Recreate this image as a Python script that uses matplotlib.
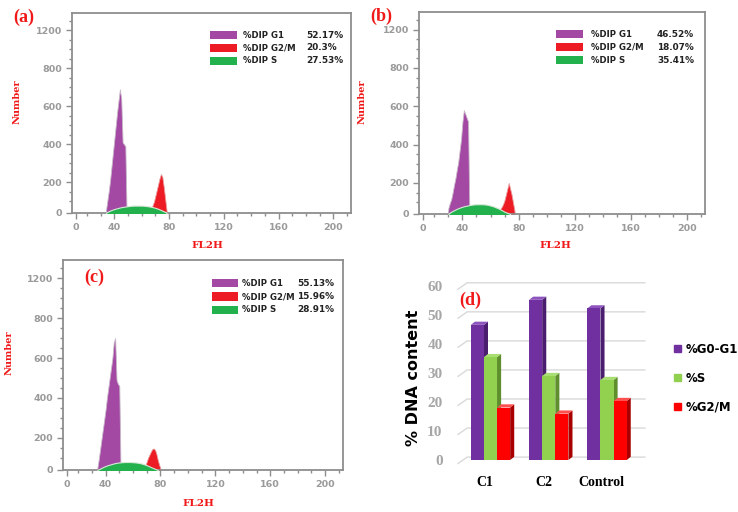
import matplotlib
matplotlib.use('Agg')
import matplotlib.pyplot as plt
from matplotlib.patches import Rectangle, Patch
import numpy as np

# ---- flow cytometry histograms, counts per FL2H channel ----
panel_tags = ['(a)', '(b)', '(c)']

g1_x = [list(range(33, 50)), list(range(29, 46)), list(range(33, 52))]
g1_y = [
    [0, 60, 110, 160, 220, 290, 360, 430, 500, 570, 630, 690, 640, 410, 400, 390, 0],
    [0, 70, 95, 115, 150, 190, 225, 270, 310, 370, 430, 520, 580, 560, 540, 520, 0],
    [0, 45, 90, 140, 190, 240, 290, 340, 400, 450, 500, 550, 600, 680, 700, 490, 470, 460, 0],
]
s_x = [list(range(34, 80, 2)), list(range(30, 76, 2)), list(range(34, 80, 2))]
s_y = [
    [41, 48, 54, 59, 63, 67, 70, 72, 74, 76, 77, 77, 77, 77, 76, 74, 72, 69, 65, 60, 54, 47, 41],
    [40, 50, 58, 65, 71, 76, 80, 83, 86, 88, 89, 89, 89, 88, 86, 82, 78, 72, 66, 58, 50, 44, 38],
    [38, 45, 52, 58, 63, 67, 71, 74, 76, 77, 78, 78, 78, 77, 76, 74, 71, 67, 62, 56, 50, 44, 38],
]
g2_x = [list(range(67, 80)), list(range(67, 79)), list(range(69, 82))]
g2_y = [
    [60, 80, 100, 130, 160, 190, 220, 243, 230, 180, 120, 60, 0],
    [65, 75, 90, 110, 140, 170, 200, 170, 140, 100, 60, 0],
    [60, 80, 100, 115, 130, 143, 146, 140, 120, 90, 65, 45, 0],
]
pct_g1 = [52.17, 46.52, 55.13]
pct_g2 = [20.3, 18.07, 15.96]
pct_s = [27.53, 35.41, 28.91]

xtick_labels = ['0', '40', '80', '120', '160', '200']
ytick_labels = ['0', '200', '400', '600', '800', '1200']

# ---- bar chart (d) ----
groups = ['C1', 'C2', 'Control']
bar_g0g1 = [46.52, 55.13, 52.17]
bar_s = [35.41, 28.91, 27.53]
bar_g2m = [18.07, 15.96, 20.3]

PURPLE = '#a349a4'
RED = '#ed1c24'
GREEN = '#22b14c'
GREY = '#8e8e8e'
LABEL_RED = '#f01818'

W_PX, H_PX = 738, 512
fig = plt.figure(figsize=(W_PX / 100, H_PX / 100), dpi=100)


def box(l, t, r, b):
    return [l / W_PX, 1 - b / H_PX, (r - l) / W_PX, (b - t) / H_PX]


def ftext(x, y, s, **kw):
    fig.text(x / W_PX, 1 - y / H_PX, s, ha='center', va='center', **kw)


hist_boxes = [box(72, 13, 351, 213), box(419, 12, 705, 214), box(63, 260, 343, 470)]
legend_x = [(0.495, 0.613, 0.839), (0.478, 0.601, 0.832), (0.531, 0.638, 0.835)]
tag_pos = [(24, 17), (381, 16), (94, 277)]
number_pos = [(17, 102), (362, 102), (9, 353)]
fl2h_pos = [(207, 246), (555, 246), (198, 503)]

for i in range(3):
    ax = fig.add_axes(hist_boxes[i])
    ax.fill_between(g1_x[i], g1_y[i], 0, color=PURPLE, lw=0.6, edgecolor='#c8b8c8', zorder=2)
    ax.fill_between(g2_x[i], g2_y[i], 0, color=RED, lw=0.6, edgecolor='#e8a0a0', zorder=2)
    ax.fill_between(s_x[i], s_y[i], 0, color=GREEN, lw=0.8, edgecolor='#d8e8d8', zorder=3)

    ax.set_xlim(9, 213)
    ax.set_ylim(38, 1092)
    ax.set_xticks([12, 40, 80, 120, 160, 200], xtick_labels)
    ax.set_xticks([v for v in range(20, 211, 10) if v % 40], minor=True)
    ax.set_yticks([40, 200, 400, 600, 800, 1000], ytick_labels)
    ax.set_yticks([v for v in range(100, 1090, 50) if v % 200], minor=True)
    ax.tick_params(which='both', direction='out', color=GREY, labelcolor='#9a9a9a',
                   labelsize=6.8, width=1)
    ax.tick_params(which='major', length=4, pad=3)
    ax.tick_params(which='minor', length=2.5)
    for lab in ax.get_xticklabels() + ax.get_yticklabels():
        lab.set_fontweight('bold')
    for sp in ax.spines.values():
        sp.set_color(GREY)
        sp.set_linewidth(1.3)

    # legend block inside the histogram
    bx, tx, vx = legend_x[i]
    rows = [('%DIP G1', pct_g1[i], PURPLE), ('%DIP G2/M', pct_g2[i], RED), ('%DIP S', pct_s[i], GREEN)]
    for k, (name, val, col) in enumerate(rows):
        yy = 0.89 - k * 0.064
        ax.add_patch(Rectangle((bx, yy - 0.02), 0.095, 0.04, transform=ax.transAxes,
                               color=col, lw=0))
        ax.text(tx, yy, name, transform=ax.transAxes, va='center', ha='left',
                fontsize=6.2, fontweight='bold', color='#222222')
        ax.text(vx, yy, f'{val:g}%', transform=ax.transAxes, va='center', ha='left',
                fontsize=6.4, fontweight='bold', color='#222222')

    ftext(*tag_pos[i], panel_tags[i], color=LABEL_RED, fontsize=13, fontweight='bold',
          family='Liberation Serif')
    ftext(*number_pos[i], 'Number', color=LABEL_RED, fontsize=7, fontweight='bold',
          family='DejaVu Serif', rotation=90)
    ftext(*fl2h_pos[i], 'FL2H', color=LABEL_RED, fontsize=7.5, fontweight='bold',
          family='DejaVu Serif')

# ---- panel (d): 3D-looking Excel bars ----
axd = fig.add_axes(box(455, 280, 650, 465))
axd.set_xlim(-0.609, 2.738)
axd.set_ylim(-1.72, 61.96)
for sp in axd.spines.values():
    sp.set_visible(False)

for v in range(0, 61, 10):
    axd.plot([-0.557, -0.40, 2.65], [v - 1.2, v + 1.0, v + 1.0], color='#d9d9d9', lw=1, zorder=0)

W = 0.225
DX, DY = 0.07, 1.1
series = [(bar_g0g1, '#7030a0', '#4a1d6e', '#8d55bd'),
          (bar_s, '#92d050', '#5e8f2c', '#a9de72'),
          (bar_g2m, '#ff0000', '#a80000', '#ff5050')]
z = 2
for g in range(len(groups)):
    for k, (vals, front, side, top) in enumerate(series):
        x0 = g + (k - 1) * W - W / 2
        h = vals[g]
        axd.fill([x0 + W, x0 + W + DX, x0 + W + DX, x0 + W], [0, DY, h + DY, h],
                 color=side, lw=0, zorder=z)
        axd.fill([x0, x0 + DX, x0 + W + DX, x0 + W], [h, h + DY, h + DY, h],
                 color=top, lw=0, zorder=z)
        axd.bar(x0, h, W, align='edge', color=front, lw=0, zorder=z + 1)
        z += 2

axd.set_yticks(range(0, 61, 10))
axd.set_xticks(np.arange(len(groups)) - 0.09, groups)
axd.tick_params(axis='y', length=0, pad=9, labelsize=11, labelcolor='#a6a6a6')
axd.tick_params(axis='x', length=0, pad=8, labelsize=10, labelcolor='black')
for lab in axd.get_yticklabels() + axd.get_xticklabels():
    lab.set_fontweight('bold')
    lab.set_family('Liberation Serif')

ftext(413, 378, '% DNA content', rotation=90, fontsize=11.5, fontweight='bold', color='black')
ftext(470, 300, '(d)', color=LABEL_RED, fontsize=13, fontweight='bold', family='Liberation Serif')

handles = [Patch(color='#7030a0', label='%G0-G1'), Patch(color='#92d050', label='%S'),
           Patch(color='#ff0000', label='%G2/M')]
fig.legend(handles=handles, loc='center left', bbox_to_anchor=(674 / W_PX, 1 - 378 / H_PX),
           frameon=False, borderpad=0, borderaxespad=0, handlelength=0.6, handleheight=0.6,
           handletextpad=0.35, labelspacing=1.35, prop={'weight': 'bold', 'size': 8.5})

fig.savefig('out.png', dpi=100, facecolor='white')
